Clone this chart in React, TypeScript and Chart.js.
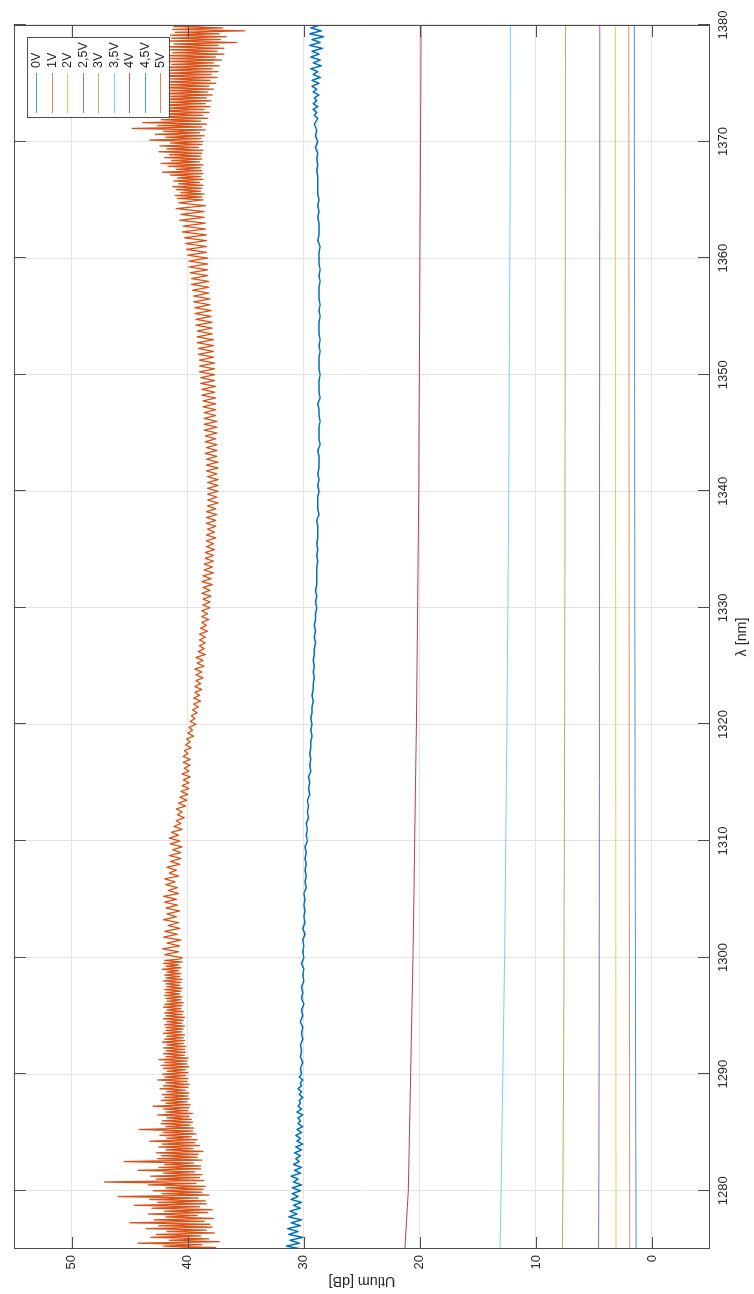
import React, { useEffect, useRef } from 'react';
import { Chart, registerables } from 'chart.js';
Chart.register(...registerables);

// Axis ranges and ticks
const X_MIN = 1275;
const X_MAX = 1380;
const Y_MIN = -5;
const Y_MAX = 55;
const xTickValues = [1280, 1290, 1300, 1310, 1320, 1330, 1340, 1350, 1360, 1370, 1380];
const yTickValues = [0, 10, 20, 30, 40, 50];
const xTitle = 'λ [nm]';
const yTitle = 'Utlum [dB]';

const seriesLabels = ['0V', '1V', '2V', '2,5V', '3V', '3,5V', '4V', '4,5V', '5V'];
const seriesColors = ['#0072BD', '#D95319', '#EDB120', '#7E2F8E', '#77AC30', '#4DBEEE', '#A2142F', '#0072BD', '#D95319'];

// Smooth curves sampled every 5 nm
const coarseWl = [1275, 1280, 1285, 1290, 1295, 1300, 1305, 1310, 1315, 1320, 1325, 1330, 1335, 1340, 1345, 1350, 1355, 1360, 1365, 1370, 1375, 1380];
const v0V = [1.37, 1.38, 1.40, 1.41, 1.42, 1.43, 1.44, 1.45, 1.46, 1.46, 1.47, 1.48, 1.48, 1.49, 1.49, 1.50, 1.50, 1.51, 1.51, 1.52, 1.52, 1.52];
const v1V = [1.92, 1.92, 1.93, 1.93, 1.94, 1.94, 1.95, 1.95, 1.96, 1.96, 1.96, 1.97, 1.97, 1.97, 1.98, 1.98, 1.98, 1.99, 1.99, 1.99, 2.00, 2.00];
const v2V = [3.10, 3.10, 3.11, 3.11, 3.11, 3.12, 3.12, 3.12, 3.13, 3.13, 3.13, 3.13, 3.14, 3.14, 3.14, 3.14, 3.15, 3.15, 3.15, 3.15, 3.15, 3.15];
const v25V = [4.60, 4.58, 4.57, 4.56, 4.55, 4.55, 4.54, 4.54, 4.53, 4.53, 4.53, 4.52, 4.52, 4.52, 4.52, 4.51, 4.51, 4.51, 4.50, 4.50, 4.50, 4.50];
const v3V = [7.72, 7.68, 7.65, 7.62, 7.60, 7.58, 7.57, 7.55, 7.54, 7.53, 7.52, 7.51, 7.50, 7.50, 7.49, 7.48, 7.48, 7.47, 7.47, 7.46, 7.46, 7.45];
const v35V = [13.10, 13.00, 12.93, 12.85, 12.78, 12.70, 12.65, 12.60, 12.55, 12.50, 12.46, 12.42, 12.38, 12.35, 12.32, 12.30, 12.28, 12.25, 12.23, 12.21, 12.20, 12.20];
const v4V = [21.30, 21.00, 20.90, 20.80, 20.70, 20.60, 20.52, 20.45, 20.38, 20.30, 20.25, 20.20, 20.15, 20.10, 20.08, 20.05, 20.02, 20.00, 19.97, 19.95, 19.92, 19.90];

// 4.5V: 1275–1289.75 every 0.25 nm
const v45A = [
  30.2, 31.5, 30.4, 31.2, 30.1, 31.3, 30.5, 31.4, 30.3, 31.1, 30.2, 31.3, 30.6, 31.2, 30.3, 30.9, 30.2, 31.1, 30.5, 31.0,
  30.3, 31.0, 30.2, 30.9, 30.5, 31.1, 30.3, 30.8, 30.2, 30.9, 30.4, 30.7, 30.3, 30.8, 30.2, 30.7, 30.1, 30.6, 30.3, 30.7,
  30.2, 30.6, 30.1, 30.5, 30.3, 30.5, 30.1, 30.6, 30.2, 30.5, 30.3, 30.4, 30.1, 30.4, 30.2, 30.5, 30.2, 30.3, 30.1, 30.4,
];
// 4.5V: 1290–1371.5 every 0.5 nm
const v45B = [
  30.2, 30.3, 30.1, 30.3, 30.2, 30.3, 30.1, 30.2, 30.1, 30.3,
  30.1, 30.2, 30.0, 30.2, 30.1, 30.2, 30.0, 30.1, 30.0, 30.2,
  30.0, 30.1, 30.0, 30.1, 29.9, 30.1, 29.9, 30.0, 29.9, 30.0,
  29.9, 30.0, 29.8, 29.9, 29.8, 29.9, 29.8, 29.9, 29.8, 29.9,
  29.7, 29.8, 29.7, 29.8, 29.6, 29.7, 29.6, 29.7, 29.5, 29.6,
  29.5, 29.6, 29.4, 29.5, 29.4, 29.5, 29.4, 29.4, 29.3, 29.4,
  29.3, 29.4, 29.3, 29.3, 29.2, 29.3, 29.2, 29.2, 29.1, 29.2,
  29.1, 29.2, 29.1, 29.1, 29.0, 29.1, 29.0, 29.1, 29.0, 29.0,
  28.9, 29.0, 28.9, 29.0, 28.9, 28.9, 28.9, 28.9, 28.8, 28.9,
  28.8, 28.9, 28.8, 28.8, 28.8, 28.9, 28.7, 28.8, 28.8, 28.8,
  28.7, 28.8, 28.7, 28.8, 28.7, 28.7, 28.7, 28.8, 28.6, 28.7,
  28.7, 28.7, 28.6, 28.7, 28.7, 28.8, 28.6, 28.7, 28.7, 28.7,
  28.6, 28.7, 28.7, 28.7, 28.6, 28.7, 28.6, 28.7, 28.7, 28.7,
  28.6, 28.7, 28.6, 28.7, 28.7, 28.7, 28.6, 28.7, 28.6, 28.7,
  28.7, 28.7, 28.6, 28.8, 28.7, 28.7, 28.7, 28.8, 28.7, 28.8,
  28.7, 28.8, 28.8, 28.8, 28.8, 28.9, 28.8, 28.9, 28.8, 29.0,
  28.8, 29.0, 28.9, 29.1,
];
// 4.5V: 1372–1380 every 0.25 nm
const v45C = [
  28.8, 29.1, 28.9, 29.2, 28.8, 29.2, 28.9, 29.1, 28.7, 29.2, 28.9, 29.3, 28.7, 29.3, 28.6, 29.2,
  28.8, 29.4, 28.5, 29.2, 28.6, 29.4, 28.7, 29.3, 28.4, 29.5, 28.6, 29.3, 28.3, 29.5, 28.5, 29.4,
  28.6,
];

// 5V: 1275–1299.875 every 0.125 nm
const v5A = [
  43.9, 37.6, 42.1, 38.8, 44.3, 37.3, 41.6, 38.2, 43.2, 38.9, 42.7, 37.7, 41.8, 38.4, 43.6, 37.9,
  42.5, 38.1, 45.0, 38.6, 42.9, 37.8, 41.9, 39.2, 43.4, 38.3, 42.0, 37.9, 43.1, 39.0, 44.6, 38.4,
  42.6, 38.5, 43.3, 39.1, 46.0, 38.2, 42.2, 38.8, 43.0, 38.7, 41.9, 38.5, 43.4, 39.3, 47.2, 38.6,
  42.7, 39.0, 43.2, 38.8, 42.1, 39.4, 44.3, 38.9, 42.5, 38.9, 42.0, 39.5, 45.5, 38.8, 42.6, 39.2,
  42.3, 39.1, 42.7, 38.7, 41.9, 39.6, 42.5, 39.0, 42.2, 39.4, 43.3, 39.2, 41.8, 39.7, 42.4, 39.3,
  42.1, 39.6, 44.2, 39.5, 41.9, 39.8, 42.3, 39.6, 42.2, 39.7, 41.8, 39.9, 42.6, 39.6, 41.9, 40.0,
  42.1, 39.9, 43.0, 39.8, 41.9, 40.1, 42.3, 39.9, 42.0, 40.0, 42.2, 39.9, 41.8, 40.2, 42.4, 40.0,
  42.1, 39.9, 41.9, 40.1, 42.6, 40.0, 42.0, 40.2, 42.2, 40.0, 41.8, 40.2, 42.1, 39.9, 42.3, 40.1,
  42.0, 40.1, 42.5, 40.0, 41.9, 40.3, 42.1, 40.2, 41.9, 40.3, 42.1, 40.2, 41.8, 40.4, 42.2, 40.3,
  42.0, 40.4, 41.8, 40.3, 42.1, 40.5, 41.9, 40.4, 41.9, 40.3, 42.0, 40.5, 41.8, 40.4, 42.1, 40.3,
  41.9, 40.5, 42.0, 40.4, 41.8, 40.6, 42.1, 40.5, 42.0, 40.4, 41.8, 40.6, 41.9, 40.5, 42.0, 40.7,
  41.9, 40.6, 42.0, 40.5, 41.8, 40.7, 41.9, 40.6, 42.1, 40.5, 41.9, 40.7, 42.0, 40.6, 41.8, 40.8,
  42.2, 40.6, 41.9, 40.8, 42.1, 40.5, 42.0, 40.7,
];
// 5V: 1300–1364.75 every 0.25 nm
const v5B = [
  40.5, 42.0, 40.8, 42.2, 40.7, 41.8, 40.6, 42.1, 40.9, 42.0, 40.7, 41.7, 40.8, 42.1, 41.0, 41.8, 40.7, 41.9, 40.9, 42.0,
  41.0, 42.1, 40.8, 41.7, 40.9, 41.9, 41.1, 42.0, 40.8, 41.6, 41.0, 41.8, 40.7, 41.5, 40.6, 41.6, 40.6, 41.3, 40.5, 41.5,
  40.7, 41.6, 40.8, 41.4, 40.5, 41.2, 40.6, 41.0, 40.3, 40.9, 40.5, 41.0, 40.2, 40.8, 40.1, 40.7, 40.0, 40.6, 39.9, 40.5,
  39.9, 40.4, 39.8, 40.5, 39.9, 40.3, 39.8, 40.4, 39.8, 40.4, 40.0, 40.3, 39.7, 40.2, 39.8, 40.1, 39.5, 40.0, 39.6, 39.9,
  39.3, 39.8, 39.4, 39.7, 39.2, 39.6, 39.1, 39.5, 38.9, 39.5, 39.0, 39.4, 38.8, 39.4, 38.9, 39.3, 38.7, 39.3, 38.8, 39.4,
  38.6, 39.2, 38.7, 39.3, 38.5, 39.1, 38.6, 39.0, 38.5, 39.0, 38.5, 39.0, 38.3, 38.9, 38.4, 38.8, 38.2, 38.8, 38.3, 38.8,
  38.1, 38.7, 38.1, 38.7, 38.0, 38.8, 38.1, 38.7, 37.9, 38.8, 38.0, 38.7, 37.8, 38.6, 37.9, 38.6, 37.8, 38.5, 37.8, 38.5,
  37.7, 38.4, 37.8, 38.4, 37.6, 38.4, 37.7, 38.3, 37.6, 38.4, 37.6, 38.4, 37.5, 38.4, 37.6, 38.3, 37.4, 38.3, 37.5, 38.3,
  37.4, 38.3, 37.4, 38.3, 37.4, 38.3, 37.5, 38.4, 37.4, 38.4, 37.4, 38.4, 37.5, 38.5, 37.5, 38.4, 37.5, 38.5, 37.6, 38.5,
  37.5, 38.6, 37.5, 38.6, 37.5, 38.6, 37.6, 38.6, 37.6, 38.7, 37.6, 38.7, 37.6, 38.8, 37.7, 38.8, 37.6, 38.9, 37.7, 38.9,
  37.7, 39.0, 37.7, 39.0, 37.7, 39.0, 37.8, 39.1, 37.8, 39.1, 37.8, 39.2, 37.8, 39.2, 37.9, 39.2, 37.9, 39.3, 37.9, 39.3,
  38.0, 39.4, 38.0, 39.4, 38.1, 39.5, 38.1, 39.5, 38.2, 39.6, 38.2, 39.7, 38.2, 39.7, 38.3, 39.8, 38.3, 39.9, 38.3, 39.9,
  38.3, 40.0, 38.4, 40.1, 38.4, 40.2, 38.4, 40.3, 38.4, 40.5, 38.5, 40.4, 38.5, 40.7, 38.6, 40.6, 38.6, 41.0, 38.5, 40.8,
];
// 5V: 1365–1380 every 0.125 nm
const v5C = [
  38.7, 40.9, 38.8, 41.1, 38.6, 40.6, 38.9, 41.0, 38.8, 41.3, 38.7, 40.8, 39.0, 41.2, 38.7, 40.9,
  38.9, 41.5, 38.7, 42.2, 38.8, 41.0, 38.9, 41.7, 38.7, 42.3, 39.0, 41.4, 38.8, 42.0, 38.9, 41.6,
  38.8, 42.5, 38.7, 41.8, 39.1, 42.4, 38.8, 41.5, 38.7, 43.3, 38.9, 41.9, 38.6, 42.8, 39.0, 42.1,
  38.5, 44.8, 38.8, 42.6, 38.4, 43.9, 38.9, 42.3, 38.3, 43.2, 38.7, 42.1, 38.2, 43.0, 38.6, 41.8,
  38.1, 42.6, 38.5, 41.7, 38.0, 42.5, 38.4, 41.9, 37.9, 42.4, 38.3, 41.6, 37.8, 42.5, 38.2, 41.8,
  37.6, 42.2, 38.1, 41.5, 37.5, 42.6, 38.0, 41.7, 37.4, 41.9, 37.9, 42.1, 37.3, 41.4, 37.8, 41.8,
  37.1, 41.7, 37.6, 42.0, 36.9, 41.3, 37.5, 41.6, 36.9, 41.8, 37.4, 41.2, 35.8, 41.6, 37.2, 41.4,
  36.7, 41.5, 37.3, 41.1, 35.1, 41.3, 37.0, 41.2, 37.0,
];

const FONT = '"Liberation Sans", Arial, Helvetica, sans-serif';
const TEXT_COLOR = '#262626';
const AXIS_COLOR = '#4d4d4d';
const GRID_COLOR = '#e4e4e4';

const W = 1294;
const H = 754;

function coarse(values: number[]) {
  return values.map((y, i) => ({ x: coarseWl[i], y }));
}
function regular(values: number[], start: number, step: number) {
  return values.map((y, i) => ({ x: start + i * step, y }));
}

const seriesData = [
  coarse(v0V),
  coarse(v1V),
  coarse(v2V),
  coarse(v25V),
  coarse(v3V),
  coarse(v35V),
  coarse(v4V),
  [...regular(v45A, 1275, 0.25), ...regular(v45B, 1290, 0.5), ...regular(v45C, 1372, 0.25)],
  [...regular(v5A, 1275, 0.125), ...regular(v5B, 1300, 0.25), ...regular(v5C, 1365, 0.125)],
];
const seriesWidths = [0.9, 0.9, 0.9, 0.9, 0.9, 0.9, 0.9, 1.5, 1.3];
const seriesAlpha = [0.8, 0.75, 0.8, 0.85, 0.85, 0.85, 0.9, 1, 1];

function withAlpha(hex: string, a: number) {
  const r = parseInt(hex.slice(1, 3), 16);
  const g = parseInt(hex.slice(3, 5), 16);
  const b = parseInt(hex.slice(5, 7), 16);
  return `rgba(${r},${g},${b},${a})`;
}

const framePlugin = {
  id: 'matlabFrame',
  beforeDraw(chart: any) {
    const { ctx } = chart;
    ctx.save();
    ctx.fillStyle = '#ffffff';
    ctx.fillRect(0, 0, chart.width, chart.height);
    ctx.restore();
  },
  afterDatasetsDraw(chart: any) {
    const { ctx, chartArea: a, scales } = chart;
    const xs = scales.x;
    const ys = scales.y;
    ctx.save();
    ctx.strokeStyle = AXIS_COLOR;
    ctx.lineWidth = 1;
    ctx.strokeRect(Math.round(a.left) + 0.5, Math.round(a.top) + 0.5, Math.round(a.right - a.left) - 1, Math.round(a.bottom - a.top) - 1);
    const TL = 12;
    ctx.beginPath();
    xTickValues.forEach((v) => {
      const p = Math.round(xs.getPixelForValue(v)) + 0.5;
      ctx.moveTo(p, a.bottom);
      ctx.lineTo(p, a.bottom - TL);
      ctx.moveTo(p, a.top);
      ctx.lineTo(p, a.top + TL);
    });
    yTickValues.forEach((v) => {
      const p = Math.round(ys.getPixelForValue(v)) + 0.5;
      ctx.moveTo(a.left, p);
      ctx.lineTo(a.left + TL, p);
      ctx.moveTo(a.right, p);
      ctx.lineTo(a.right - TL, p);
    });
    ctx.stroke();

    ctx.fillStyle = TEXT_COLOR;
    ctx.font = `14.3px ${FONT}`;
    ctx.textAlign = 'center';
    ctx.textBaseline = 'middle';
    ctx.fillText(xTitle, (a.left + a.right) / 2, 742);
    ctx.save();
    ctx.translate(13.5, (a.top + a.bottom) / 2);
    ctx.rotate(-Math.PI / 2);
    ctx.fillText(yTitle, 0, 0);
    ctx.restore();
    ctx.restore();
  },
  afterDraw(chart: any) {
    const { ctx, chartArea: a } = chart;
    const bw = 80;
    const bh = 142;
    const bx = a.right - 13 - bw;
    const by = a.top + 13;
    ctx.save();
    ctx.fillStyle = '#ffffff';
    ctx.fillRect(bx, by, bw, bh);
    ctx.strokeStyle = AXIS_COLOR;
    ctx.lineWidth = 1;
    ctx.strokeRect(Math.round(bx) + 0.5, Math.round(by) + 0.5, bw, bh);
    ctx.font = `12.5px ${FONT}`;
    ctx.textAlign = 'left';
    ctx.textBaseline = 'middle';
    seriesLabels.forEach((lab, i) => {
      const cy = by + 9.5 + i * 15.5;
      ctx.strokeStyle = withAlpha(seriesColors[i], 0.7);
      ctx.beginPath();
      ctx.moveTo(bx + 5, Math.round(cy) + 0.5);
      ctx.lineTo(bx + 45, Math.round(cy) + 0.5);
      ctx.stroke();
      ctx.fillStyle = TEXT_COLOR;
      ctx.fillText(lab, bx + 50, cy + 0.5);
    });
    ctx.restore();
  },
};

export default function App() {
  const ref = useRef<HTMLCanvasElement>(null);
  useEffect(() => {
    if (!ref.current) return;
    const datasets = seriesData.map((data, i) => ({
      label: seriesLabels[i],
      data,
      borderColor: withAlpha(seriesColors[i], seriesAlpha[i]),
      backgroundColor: seriesColors[i],
      borderWidth: seriesWidths[i],
      pointRadius: 0,
      tension: 0,
      fill: false,
      order: 8 - i,
    }));
    const chart = new Chart(ref.current, {
      type: 'line',
      data: { datasets },
      options: {
        responsive: false,
        maintainAspectRatio: false,
        devicePixelRatio: 1,
        animation: false,
        layout: { padding: { left: 0, right: 25, top: 12, bottom: 0 } },
        plugins: { legend: { display: false }, tooltip: { enabled: false }, title: { display: false } },
        elements: { point: { radius: 0 }, line: { borderJoinStyle: 'round' } },
        scales: {
          x: {
            type: 'linear',
            min: X_MIN,
            max: X_MAX,
            afterBuildTicks: (s: any) => {
              s.ticks = xTickValues.map((v) => ({ value: v }));
            },
            afterFit: (s: any) => {
              s.height = 44;
            },
            grid: { color: GRID_COLOR, drawTicks: false, lineWidth: 1 },
            border: { display: false },
            ticks: {
              autoSkip: false,
              maxRotation: 0,
              padding: 6,
              color: TEXT_COLOR,
              font: { family: FONT, size: 13 },
              callback: (v: any) => String(v),
            },
          },
          y: {
            type: 'linear',
            min: Y_MIN,
            max: Y_MAX,
            afterBuildTicks: (s: any) => {
              s.ticks = yTickValues.map((v) => ({ value: v }));
            },
            afterFit: (s: any) => {
              s.width = 45;
            },
            grid: { color: GRID_COLOR, drawTicks: false, lineWidth: 1 },
            border: { display: false },
            ticks: {
              autoSkip: false,
              padding: 6,
              color: TEXT_COLOR,
              font: { family: FONT, size: 13 },
              callback: (v: any) => String(v),
            },
          },
        },
      } as any,
      plugins: [framePlugin],
    });
    return () => chart.destroy();
  }, []);

  return (
    <div
      style={{
        position: 'fixed',
        left: 0,
        top: 0,
        width: W,
        height: H,
        transformOrigin: '0 0',
        transform: `translate(0px, ${W}px) rotate(-90deg)`,
        background: '#ffffff',
      }}
    >
      <canvas ref={ref} width={W} height={H} style={{ display: 'block', width: W, height: H }} />
    </div>
  );
}
